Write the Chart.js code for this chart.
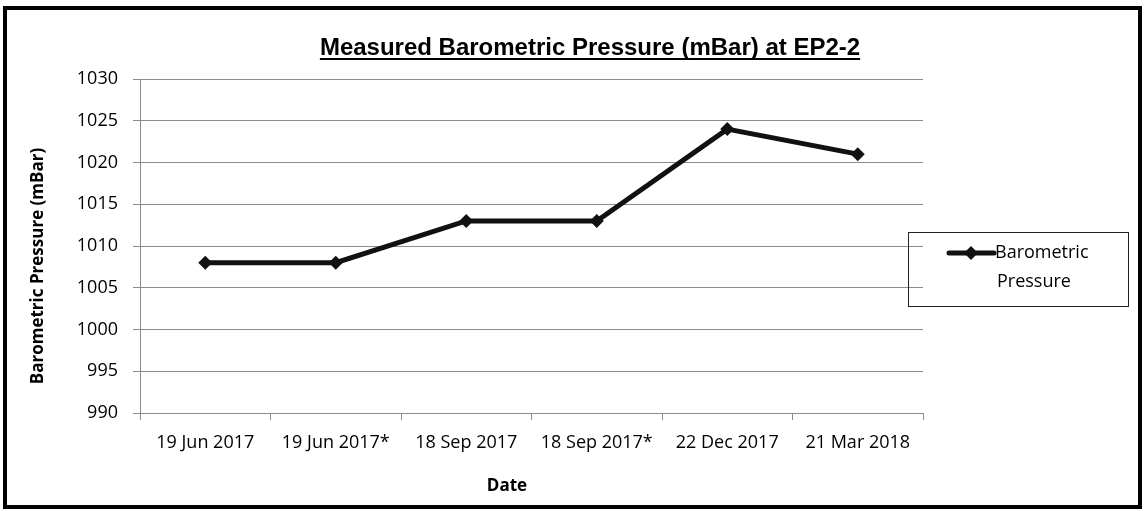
<!DOCTYPE html>
<html>
<head>
<meta charset="utf-8">
<script src="https://cdn.jsdelivr.net/npm/chart.js@4.4.0/dist/chart.umd.min.js"></script>
<style>
  body { margin: 0; background: #fff; }
  #wrap { width: 1144px; height: 511px; }
</style>
</head>
<body>
<div id="wrap"><canvas id="grafic" width="1144" height="511"></canvas></div>
<script>
// data
const dates = ["19 Jun 2017", "19 Jun 2017*", "18 Sep 2017", "18 Sep 2017*", "22 Dec 2017", "21 Mar 2018"];
const pressure = [1008, 1008, 1013, 1013, 1024, 1021];
const seriesName = "Barometric Pressure";
const chartTitle = "Measured Barometric Pressure (mBar) at EP2-2";
const yTitle = "Barometric Pressure (mBar)";
const xTitle = "Date";

const gridGray = "#8c8c8c";
const lineBlack = "#111111";

// frame, title, axis titles and the boxed legend, drawn on the canvas
const decorations = {
  id: "decorations",
  afterDraw(chart) {
    const ctx = chart.ctx;
    ctx.save();

    // outer frame
    ctx.strokeStyle = "#000";
    ctx.lineWidth = 4;
    ctx.strokeRect(5, 8, 1135, 499);

    // title, underlined
    ctx.fillStyle = "#000";
    ctx.font = "bold 24px 'Liberation Sans', Arial, sans-serif";
    ctx.textAlign = "center";
    ctx.textBaseline = "alphabetic";
    ctx.fillText(chartTitle, 590, 55);
    let w = ctx.measureText(chartTitle).width;
    ctx.fillRect(590 - w / 2, 58, w, 2);

    // axis titles
    ctx.font = "bold 17px 'Open Sans', sans-serif";
    ctx.textBaseline = "middle";
    ctx.fillText(xTitle, 507, 486);
    ctx.save();
    ctx.translate(38, 266);
    ctx.rotate(-Math.PI / 2);
    ctx.fillText(yTitle, 0, 0);
    ctx.restore();

    // legend box
    ctx.strokeStyle = "#222";
    ctx.lineWidth = 1;
    ctx.strokeRect(908.5, 232.5, 220, 74);
    let ds = chart.data.datasets[0];
    ctx.strokeStyle = ds.borderColor;
    ctx.lineWidth = ds.borderWidth;
    ctx.lineCap = "round";
    ctx.beginPath();
    ctx.moveTo(949, 253);
    ctx.lineTo(994, 253);
    ctx.stroke();
    ctx.fillStyle = ds.pointBackgroundColor;
    ctx.beginPath();
    ctx.moveTo(971, 246);
    ctx.lineTo(978, 253);
    ctx.lineTo(971, 260);
    ctx.lineTo(964, 253);
    ctx.closePath();
    ctx.fill();
    ctx.fillStyle = "#000";
    ctx.font = "18px 'Open Sans', sans-serif";
    ctx.textAlign = "left";
    let words = ds.label.split(" ");
    ctx.fillText(words[0], 995, 253);
    ctx.fillText(words.slice(1).join(" "), 997, 282);

    ctx.restore();
  }
};

Chart.defaults.color = "#000";
Chart.defaults.font.family = "'Open Sans', sans-serif";
Chart.defaults.font.size = 18;

new Chart(document.getElementById("grafic"), {
  type: "line",
  data: {
    labels: dates,
    datasets: [{
      label: seriesName,
      data: pressure,
      borderColor: lineBlack,
      backgroundColor: lineBlack,
      pointBackgroundColor: lineBlack,
      pointBorderColor: lineBlack,
      borderWidth: 5,
      pointStyle: "rectRot",
      pointRadius: 7,
      pointBorderWidth: 0,
      tension: 0
    }]
  },
  options: {
    responsive: false,
    animation: false,
    layout: { padding: { top: 79, right: 221, left: 0, bottom: 0 } },
    plugins: {
      legend: { display: false },
      title: { display: false },
      tooltip: { enabled: false }
    },
    scales: {
      x: {
        offset: true,
        afterFit(scale) { scale.height = 98; },
        border: { display: true, color: gridGray, width: 1 },
        grid: { offset: true, drawOnChartArea: false, drawTicks: true, tickLength: 7, color: gridGray },
        ticks: { padding: 12, maxRotation: 0, autoSkip: false }
      },
      y: {
        min: 990,
        max: 1030,
        afterFit(scale) { scale.width = 140; },
        border: { display: true, color: gridGray, width: 1 },
        grid: { color: gridGray, tickLength: 7, drawTicks: true },
        ticks: { stepSize: 5, padding: 15, callback: v => String(v) }
      }
    }
  },
  plugins: [decorations]
});
</script>
</body>
</html>
